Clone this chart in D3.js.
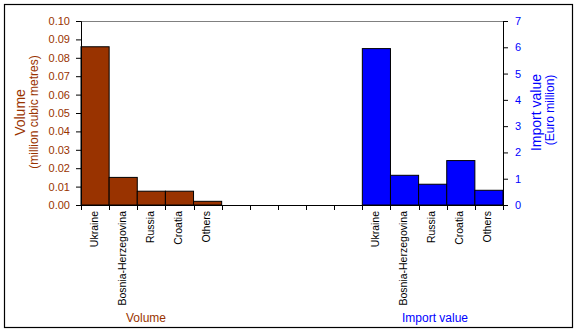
<!DOCTYPE html>
<html><head><meta charset="utf-8">
<script src="https://cdn.jsdelivr.net/npm/d3@7"></script>
<style>body{margin:0;background:#fff}svg{display:block;font-family:"Liberation Sans",Arial,sans-serif}</style>
</head><body><svg id="c" width="577" height="332"></svg>
<script>
const categories = ["Ukraine","Bosnia-Herzegovina","Russia","Croatia","Others"];
const volume = [0.086, 0.015, 0.0075, 0.0075, 0.002];
const importValue = [5.95, 1.13, 0.79, 1.69, 0.56];
const volumeTicks = [0,0.01,0.02,0.03,0.04,0.05,0.06,0.07,0.08,0.09,0.10];
const importTicks = [0,1,2,3,4,5,6,7];
const gapSlots = ["g1","g2","g3","g4","g5"];

const svg = d3.select("#c");
const FONT = "'Liberation Sans', Arial, sans-serif";
const L = 81, R = 503, T = 21, B = 205;
const brown = "#993300", blue = "#0000FF";

const slots = [...categories.map(c=>"V|"+c), ...gapSlots, ...categories.map(c=>"I|"+c)];
const x = d3.scaleBand().domain(slots).range([L,R]).padding(0);
const yL = d3.scaleLinear().domain([0,0.10]).range([B,T]);
const yR = d3.scaleLinear().domain([0,7]).range([B,T]);

// frame
svg.append("rect").attr("x",4.5).attr("y",4.5).attr("width",568).attr("height",323)
  .attr("fill","none").attr("stroke","#000").attr("stroke-width",1.2);

// top plot border
svg.append("line").attr("x1",L).attr("x2",R).attr("y1",T+0.5).attr("y2",T+0.5)
  .attr("stroke","#808080").attr("stroke-width",1);

// bars
svg.selectAll(".bv").data(categories).join("rect")
  .attr("x",d=>x("V|"+d)).attr("width",x.bandwidth())
  .attr("y",(d,i)=>yL(volume[i])).attr("height",(d,i)=>B-yL(volume[i]))
  .attr("fill",brown).attr("stroke","#000").attr("stroke-width",1);
svg.selectAll(".bi").data(categories).join("rect")
  .attr("x",d=>x("I|"+d)).attr("width",x.bandwidth())
  .attr("y",(d,i)=>yR(importValue[i])).attr("height",(d,i)=>B-yR(importValue[i]))
  .attr("fill",blue).attr("stroke","#000").attr("stroke-width",1);

// left axis
const gl = svg.append("g").attr("transform",`translate(${L},0)`)
  .call(d3.axisLeft(yL).tickValues(volumeTicks).tickFormat(d3.format(".2f")).tickSize(5).tickPadding(6));
gl.select(".domain").attr("stroke","#000");
gl.selectAll("line").attr("stroke","#000");
gl.selectAll("text").attr("fill",brown).style("font-size","11px").style("font-family",FONT);

// right axis
const gr = svg.append("g").attr("transform",`translate(${R},0)`)
  .call(d3.axisRight(yR).tickValues(importTicks).tickFormat(d3.format("d")).tickSize(5).tickPadding(7));
gr.select(".domain").attr("stroke","#000");
gr.selectAll("line").attr("stroke","#000");
gr.selectAll("text").attr("fill",blue).style("font-size","11px").style("font-family",FONT);

// x axis line and ticks at slot boundaries
svg.append("line").attr("x1",L).attr("x2",R).attr("y1",B+0.5).attr("y2",B+0.5).attr("stroke","#000");
const bounds = slots.map(s=>x(s)).concat([R]);
svg.selectAll(".xt").data(bounds).join("line")
  .attr("x1",d=>Math.round(d)+0.5).attr("x2",d=>Math.round(d)+0.5)
  .attr("y1",B).attr("y2",B+5).attr("stroke","#000");

// x labels
const xl = slots.filter(s=>s.includes("|"));
svg.selectAll(".xl").data(xl).join("text")
  .attr("transform",d=>`translate(${x(d)+x.bandwidth()/2+2.5},${211}) rotate(-90)`)
  .attr("text-anchor","end").style("font-size","10.5px").style("font-family",FONT).attr("fill","#000")
  .text(d=>d.split("|")[1]);

// axis titles
const title = (tx,ty,size,color,txt)=>svg.append("text")
  .attr("transform",`translate(${tx},${ty}) rotate(-90)`).attr("text-anchor","middle")
  .attr("fill",color).style("font-size",size).style("font-family",FONT).text(txt);
title(24.5,112.5,"14px",brown,"Volume");
title(38,112,"12px",brown,"(million cubic metres)");
title(540.5,112.5,"14px",blue,"Import value");
title(554,110,"12px",blue,"(Euro million)");

// group labels
svg.append("text").attr("x",146).attr("y",322).attr("text-anchor","middle")
  .attr("fill",brown).style("font-size","12px").style("font-family",FONT).text("Volume");
svg.append("text").attr("x",435).attr("y",322).attr("text-anchor","middle")
  .attr("fill",blue).style("font-size","12px").style("font-family",FONT).text("Import value");
</script></body></html>
